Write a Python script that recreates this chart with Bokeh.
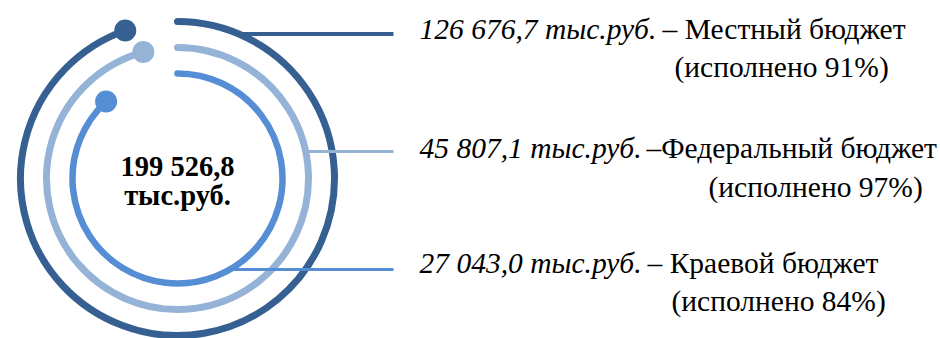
import math
from bokeh.plotting import figure
from bokeh.models import Range1d, ColumnDataSource
from bokeh.core.properties import value
from bokeh.embed import file_html
from bokeh.resources import INLINE

# ---- data ----
total_amount = "199 526,8"
total_unit = "тыс.руб."
amounts = ["126 676,7 тыс.руб.", "45 807,1 тыс.руб.", "27 043,0 тыс.руб."]
budget_names = ["– Местный бюджет", "–Федеральный бюджет", "– Краевой бюджет"]
executed_pct = [91, 97, 84]
arc_fill_pct = [94.6, 95.8, 88.1]          # share of a full circle drawn by each ring
ring_colors = ["#376092", "#95B3D7", "#558ED5"]

# ---- layout (pixels of the 940x338 picture) ----
CX, CY = 177, 178
radii = [157, 131, 105]
ring_widths = [7, 7, 6.5]
line_y = [33.5, 151, 269]
line_end_x = 393
line_widths = [4, 3, 3]
text_x = [419, 419, 419]
name_x = [662, 646, 647]
pct_x = [674, 708, 671]
mid1 = [28, 147, 262]
mid2 = [66, 186, 300]

W, H = 940, 338


def dx(ix):
    return ix - CX


def dy(iy):
    return CY - iy


p = figure(width=W, height=H, output_backend="svg", toolbar_location=None,
           x_range=Range1d(dx(0), dx(W)), y_range=Range1d(dy(H), dy(0)),
           x_axis_location=None, y_axis_location=None, min_border=0,
           outline_line_color=None, background_fill_color="white")
p.grid.visible = False

# rings
start = math.pi / 2
ends = [start - f / 100 * 2 * math.pi for f in arc_fill_pct]
for r, e, c, w in zip(radii, ends, ring_colors, ring_widths):
    p.arc(x=0, y=0, radius=r, start_angle=start, end_angle=e, direction="clock",
          line_color=c, line_width=w, line_cap="round")

# end dots
dots = ColumnDataSource(dict(
    x=[r * math.cos(e) for r, e in zip(radii, ends)],
    y=[r * math.sin(e) for r, e in zip(radii, ends)],
    c=ring_colors))
p.circle(x="x", y="y", radius=11, fill_color="c", line_color=None, source=dots)

# connector lines
for r, ly, c, w in zip(radii, line_y, ring_colors, line_widths):
    yy = dy(ly)
    x0 = math.sqrt(max(r * r - yy * yy, 0))
    p.segment(x0=[x0], y0=[yy], x1=[dx(line_end_x)], y1=[yy], line_color=c,
              line_width=w, line_cap="butt")

font = value("Liberation Serif")

# centre total
p.text(x=[0, 0], y=[dy(165.5), dy(195)], text=[total_amount, total_unit], text_font=font,
       text_font_size="28.5px", text_font_style="bold", text_align="center",
       text_baseline="middle", text_color="black")

# labels
p.text(x=[dx(v) for v in text_x], y=[dy(v) for v in mid1], text=amounts, text_font=font,
       text_font_size="29.5px", text_font_style="italic", text_align="left",
       text_baseline="middle", text_color="black")
p.text(x=[dx(v) for v in name_x], y=[dy(v) for v in mid1], text=budget_names, text_font=font,
       text_font_size="29.5px", text_font_style="normal", text_align="left",
       text_baseline="middle", text_color="black")
p.text(x=[dx(v) for v in pct_x], y=[dy(v) for v in mid2],
       text=[f"(исполнено {v}%)" for v in executed_pct], text_font=font,
       text_font_size="29.5px", text_font_style="normal", text_align="left",
       text_baseline="middle", text_color="black")

open("out.html", "w").write(file_html(p, INLINE))
